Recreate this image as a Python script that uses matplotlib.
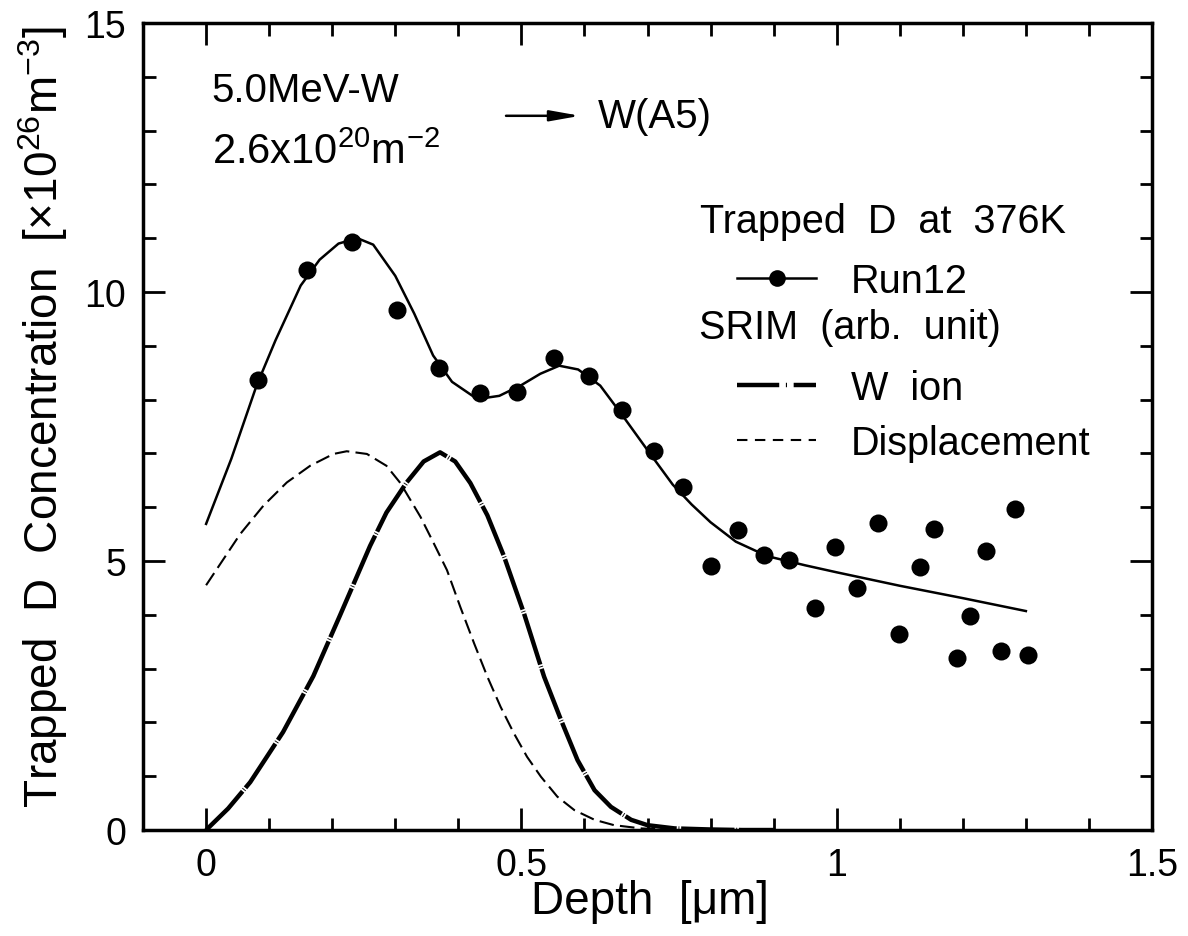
import matplotlib
matplotlib.use("Agg")
import matplotlib.pyplot as plt
from matplotlib.lines import Line2D

plt.rcParams["font.family"] = ["Liberation Sans", "DejaVu Sans"]
plt.rcParams["mathtext.fontset"] = "custom"
plt.rcParams["mathtext.rm"] = "Liberation Sans"
plt.rcParams["mathtext.it"] = "Liberation Sans"

# measured trapped D (Run12)
run12_depth = [0.082, 0.160, 0.231, 0.303, 0.369, 0.434, 0.493, 0.551, 0.607, 0.659,
               0.710, 0.756, 0.800, 0.843, 0.884, 0.924, 0.965, 0.998, 1.032, 1.065,
               1.098, 1.132, 1.155, 1.190, 1.211, 1.236, 1.261, 1.282, 1.304]
run12_conc = [8.36, 10.41, 10.93, 9.67, 8.59, 8.12, 8.14, 8.77, 8.44, 7.81,
              7.04, 6.38, 4.91, 5.58, 5.11, 5.02, 4.13, 5.26, 4.50, 5.71,
              3.64, 4.89, 5.59, 3.20, 3.98, 5.19, 3.33, 5.97, 3.25]

# fitted curve through Run12
fit_depth = [0.0, 0.04, 0.08, 0.11, 0.15, 0.18, 0.21, 0.24, 0.265, 0.3, 0.33, 0.36,
             0.39, 0.43, 0.465, 0.5, 0.53, 0.56, 0.59, 0.625, 0.66, 0.7, 0.74, 0.77,
             0.8, 0.84, 0.89, 0.95, 1.0, 1.1, 1.2, 1.3]
fit_conc = [5.69, 6.9, 8.26, 9.1, 10.12, 10.6, 10.9, 11.0, 10.88, 10.3, 9.6, 8.82,
            8.33, 8.01, 8.07, 8.27, 8.48, 8.63, 8.56, 8.26, 7.71, 7.06, 6.42, 6.05,
            5.72, 5.36, 5.09, 4.92, 4.79, 4.54, 4.31, 4.07]

# SRIM profiles (arb. unit)
ion_depth = [0.0, 0.035, 0.07, 0.122, 0.17, 0.212, 0.26, 0.286, 0.318, 0.345, 0.371,
             0.395, 0.419, 0.446, 0.472, 0.504, 0.536, 0.563, 0.589, 0.616, 0.642,
             0.674, 0.7, 0.743, 0.8, 0.85, 0.9]
w_ion = [0.0, 0.4, 0.89, 1.82, 2.86, 3.98, 5.28, 5.9, 6.46, 6.85, 7.02,
         6.85, 6.45, 5.85, 5.1, 4.03, 2.85, 2.04, 1.30, 0.74, 0.43,
         0.19, 0.09, 0.03, 0.01, 0.0, 0.0]
dpa_depth = [0.0, 0.054, 0.091, 0.128, 0.165, 0.202, 0.223, 0.255, 0.286, 0.308,
             0.34, 0.361, 0.382, 0.403, 0.425, 0.446, 0.467, 0.488, 0.509, 0.531,
             0.557, 0.584, 0.616, 0.647, 0.69, 0.727, 0.8, 0.9]
displacement = [4.55, 5.5, 6.03, 6.46, 6.77, 6.99, 7.04, 6.99, 6.77, 6.45,
                5.82, 5.33, 4.83, 4.15, 3.47, 2.85, 2.29, 1.80, 1.36, 0.99,
                0.62, 0.37, 0.19, 0.09, 0.03, 0.01, 0.0, 0.0]

fig = plt.figure(figsize=(11.88, 9.37), dpi=100)
ax = fig.add_axes([0.1204, 0.1131, 0.8493, 0.8613])

ax.plot(fit_depth, fit_conc, "-", color="k", lw=1.8)
ax.plot(run12_depth, run12_conc, "o", color="k", ms=13, mew=0)
ax.plot(ion_depth, w_ion, color="k", lw=3.2, dashes=(12, 0.4, 0.2, 0.4))
ax.plot(dpa_depth, displacement, color="k", lw=1.5, dashes=(7, 3))

ax.set_xlim(-0.1, 1.5)
ax.set_ylim(0, 15)
ax.set_xticks([0, 0.5, 1, 1.5])
ax.set_xticklabels(["0", "0.5", "1", "1.5"])
ax.set_xticks([i / 10 for i in range(-1, 16)], minor=True)
ax.set_yticks([0, 5, 10, 15])
ax.set_yticks(range(16), minor=True)
ax.tick_params(which="both", direction="in", top=True, right=True, width=2,
               labelsize=27, pad=12)
ax.tick_params(which="major", length=16)
ax.tick_params(which="minor", length=9)
for s in ax.spines.values():
    s.set_linewidth(2.5)

ax.set_xlabel("Depth  [\u03bcm]", fontsize=33)
ax.set_ylabel("Trapped  D  Concentration  [\u00d710$^{26}$m$^{-3}$]", fontsize=33)
ax.xaxis.set_label_coords(0.5025, -0.061)
ax.yaxis.set_label_coords(-0.072, 0.513)

# irradiation info
ax.text(0.068, 0.903, "5.0MeV-W", transform=ax.transAxes, fontsize=29, va="baseline")
ax.text(0.068, 0.826, "2.6x10$^{20}$m$^{-2}$", transform=ax.transAxes, fontsize=30,
        va="baseline")
ax.annotate("", xy=(0.436, 0.885), xytext=(0.357, 0.885), xycoords="axes fraction",
            arrowprops=dict(arrowstyle="-|>,head_length=0.9,head_width=0.16",
                            lw=1.8, color="k", mutation_scale=20))
ax.text(0.451, 0.885, "W(A5)", transform=ax.transAxes, fontsize=29, va="center")

# legend
ax.text(0.552, 0.7546, "Trapped  D  at  376K", transform=ax.transAxes, fontsize=28.5,
        va="center")
ax.text(0.551, 0.6233, "SRIM  (arb.  unit)", transform=ax.transAxes, fontsize=28.5,
        va="center")
h_run = Line2D([], [], color="k", lw=1.8, marker="o", ms=12, mew=0)
h_ion = Line2D([], [], color="k", lw=3.2, dashes=(9.5, 1.5, 0.25, 1.5))
h_dis = Line2D([], [], color="k", lw=1.5, dashes=(5, 3.6))
leg1 = ax.legend([h_run], ["Run12"], loc="center left", bbox_to_anchor=(0.589, 0.680),
                 frameon=False, fontsize=28.5, handlelength=2.0, handletextpad=0.86,
                 borderpad=0, borderaxespad=0, numpoints=1)
ax.add_artist(leg1)
ax.legend([h_ion, h_dis], ["W  ion", "Displacement"], loc="center left",
          bbox_to_anchor=(0.589, 0.514), frameon=False, fontsize=28.5,
          handlelength=2.0, handletextpad=0.86, borderpad=0, borderaxespad=0,
          labelspacing=0.43)

fig.savefig("out.png", dpi=100)
